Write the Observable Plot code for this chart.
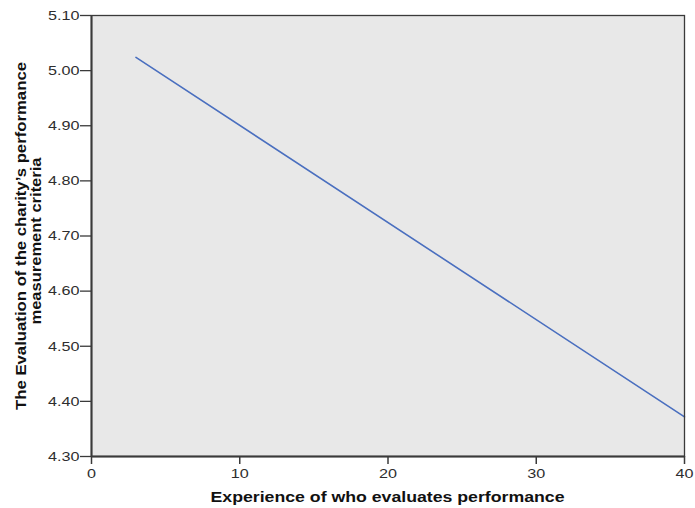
<!DOCTYPE html>
<html>
<head>
<meta charset="utf-8">
<script src="https://cdn.jsdelivr.net/npm/d3@7"></script>
<script src="https://cdn.jsdelivr.net/npm/@observablehq/plot@0.6"></script>
<style>
  html, body { margin: 0; padding: 0; background: #ffffff; }
</style>
</head>
<body>
<script>
// Data (linear fit line)
const experience = [3, 40];
const evaluation = [5.024, 4.372];
const xTicks = [0, 10, 20, 30, 40];
const yTicks = [4.3, 4.4, 4.5, 4.6, 4.7, 4.8, 4.9, 5.0, 5.1];
const xTitle = "Experience of who evaluates performance";
const yTitleLines = ["The Evaluation of the charity\u2019s performance", "measurement criteria"];

const points = experience.map((x, i) => ({x, y: evaluation[i]}));

const svg = Plot.plot({
  width: 695,
  height: 508,
  marginLeft: 91,
  marginRight: 11,
  marginTop: 15,
  marginBottom: 52,
  style: {
    fontFamily: "'Liberation Sans', Arial, sans-serif",
    fontSize: "13.5px",
    color: "#2e2e2e",
    background: "#ffffff"
  },
  x: {domain: [0, 40]},
  y: {domain: [4.3, 5.1]},
  marks: [
    Plot.frame({fill: "#e8e8e8"}),
    Plot.line(points, {x: "x", y: "y", stroke: "#4a6fbf", strokeWidth: 1.6}),
    Plot.frame({stroke: "#3a3a3a", strokeWidth: 1.3}),
    Plot.axisX({ticks: xTicks, tickSize: 8, tickPadding: 4, tickFormat: d => String(d), label: null, stroke: "#3a3a3a", strokeWidth: 1.5}),
    Plot.axisY({ticks: yTicks, tickSize: 11, tickPadding: 1, tickFormat: d3.format(".2f"), label: null, stroke: "#3a3a3a", strokeWidth: 1.3}),
    Plot.ruleX([0], {stroke: "#3a3a3a", strokeWidth: 2}),
    Plot.ruleY([4.3], {stroke: "#3a3a3a", strokeWidth: 2})
  ]
});

document.body.append(svg);

// Widen tick labels to match the reference's wide glyph rendering
svg.querySelectorAll('g[aria-label$="tick label"] text').forEach(t => {
  const L = t.getComputedTextLength();
  t.setAttribute("textLength", (L * 1.2).toFixed(1));
  t.setAttribute("lengthAdjust", "spacingAndGlyphs");
});

const s = d3.select(svg);
s.append("text")
  .attr("x", 387.5)
  .attr("y", 502)
  .attr("text-anchor", "middle")
  .attr("font-weight", "bold")
  .attr("font-size", 14.5)
  .attr("fill", "#111")
  .attr("textLength", 354)
  .attr("lengthAdjust", "spacingAndGlyphs")
  .text(xTitle);

const yPos = [{x: 26, y: 236, len: 348}, {x: 41, y: 241, len: 167}];
yTitleLines.forEach((line, i) => {
  s.append("text")
    .attr("transform", `translate(${yPos[i].x},${yPos[i].y}) rotate(-90)`)
    .attr("text-anchor", "middle")
    .attr("font-weight", "bold")
    .attr("font-size", 14.5)
    .attr("fill", "#111")
    .attr("textLength", yPos[i].len)
    .attr("lengthAdjust", "spacingAndGlyphs")
    .text(line);
});
</script>
</body>
</html>
